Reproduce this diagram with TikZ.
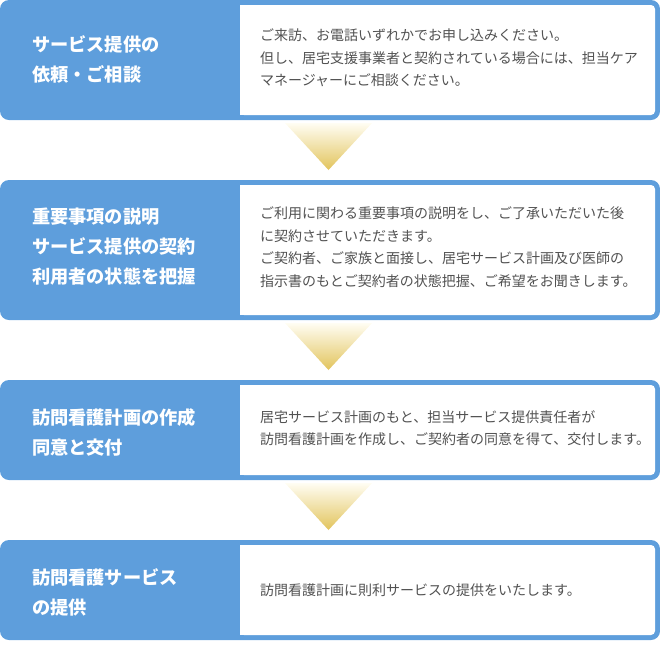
\documentclass[tikz,border=0pt]{standalone}
\usepackage{fontspec}
\newfontfamily\jpfont{Noto Sans CJK JP}
\usepackage{xcolor}
\usepackage{tikz}
\usetikzlibrary{positioning}

\definecolor{stepblue}{RGB}{94,158,220}
\definecolor{bodygray}{RGB}{82,82,82}
\definecolor{arrowtop}{RGB}{255,253,243}
\definecolor{arrowbot}{RGB}{226,196,92}

\begin{document}
\begin{tikzpicture}[x=1pt, y=-1pt,
  title/.style={text=white, font=\jpfont\bfseries\fontsize{18.2}{30}\selectfont, align=left, anchor=west, inner sep=0pt},
  body/.style={text=bodygray, font=\jpfont\fontsize{14}{22.5}\selectfont, align=left, anchor=west, inner sep=0pt},
  arrowfill/.style={top color=arrowtop, bottom color=arrowbot}]
\useasboundingbox (0,0) rectangle (660,665);
% step 1
\fill[stepblue, rounded corners=9] (0,0) rectangle (660,120);
\fill[white, rounded corners=4] (240,5) rectangle (655,115);
\fill[white] (240,5) rectangle (250,115);
\node[title] (title1) at (32,59) {サービス提供の\\依頼・ご相談};
\node[body] (text1) at (260,58) {ご来訪、お電話いずれかでお申し込みください。\\但し、居宅支援事業者と契約されている場合には、担当ケア\\マネージャーにご相談ください。};
\shade[arrowfill] (285,123) -- (372,123) -- (328.5,170) -- cycle;
% step 2
\fill[stepblue, rounded corners=9] (0,180) rectangle (660,320);
\fill[white, rounded corners=4] (240,185) rectangle (655,315);
\fill[white] (240,185) rectangle (250,315);
\node[title] (title2) at (32,247) {重要事項の説明\\サービス提供の契約\\利用者の状態を把握};
\node[body] (text2) at (260,247) {ご利用に関わる重要事項の説明をし、ご了承いただいた後\\に契約させていただきます。\\ご契約者、ご家族と面接し、居宅サービス計画及び医師の\\指示書のもとご契約者の状態把握、ご希望をお聞きします。};
\shade[arrowfill] (285,323) -- (372,323) -- (328.5,370) -- cycle;
% step 3
\fill[stepblue, rounded corners=9] (0,380) rectangle (660,480);
\fill[white, rounded corners=4] (240,385) rectangle (655,475);
\fill[white] (240,385) rectangle (250,475);
\node[title] (title3) at (32,432) {訪問看護計画の作成\\同意と交付};
\node[body] (text3) at (260,428) {居宅サービス計画のもと、担当サービス提供責任者が\\訪問看護計画を作成し、ご契約者の同意を得て、交付します。};
\shade[arrowfill] (285,483) -- (372,483) -- (328.5,530) -- cycle;
% step 4
\fill[stepblue, rounded corners=9] (0,540) rectangle (660,640);
\fill[white, rounded corners=4] (240,545) rectangle (655,635);
\fill[white] (240,545) rectangle (250,635);
\node[title] (title4) at (32,592) {訪問看護サービス\\の提供};
\node[body] (text4) at (260,590) {訪問看護計画に則利サービスの提供をいたします。};
\end{tikzpicture}
\end{document}
